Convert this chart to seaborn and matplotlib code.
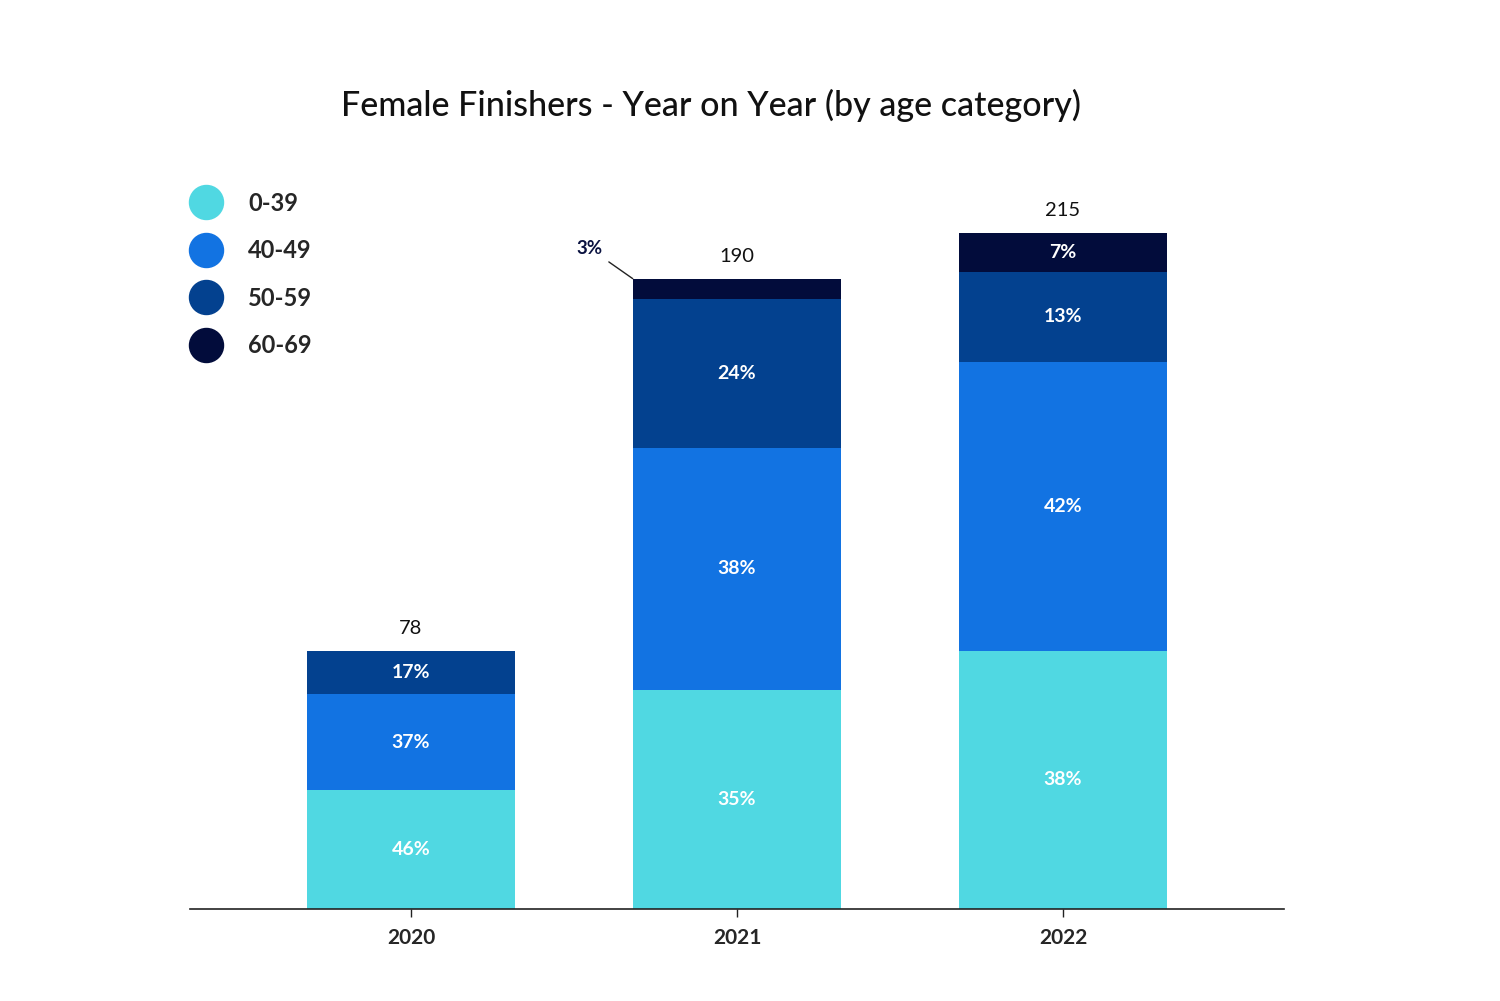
import pandas as pd
import matplotlib.pyplot as plt
import seaborn as sns
from matplotlib.lines import Line2D

# data
years = ["2020", "2021", "2022"]
groups = ["0-39", "40-49", "50-59", "60-69"]
totals = [78, 190, 215]
# segment heights as drawn (axis units)
seg_0_39 = [37.8, 69.7, 82.1]
seg_40_49 = [30.5, 77.0, 91.9]
seg_50_59 = [13.7, 47.4, 28.6]
seg_60_69 = [0.0, 6.4, 12.4]
pct_0_39 = ["46%", "35%", "38%"]
pct_40_49 = ["37%", "38%", "42%"]
pct_50_59 = ["17%", "24%", "13%"]
pct_60_69 = ["", "3%", "7%"]

colors = ["#50D8E2", "#1273E2", "#03418F", "#020C3B"]

segs = [seg_0_39, seg_40_49, seg_50_59, seg_60_69]
pcts = [pct_0_39, pct_40_49, pct_50_59, pct_60_69]

sns.set_style("white")
plt.rcParams["font.family"] = ["Lato", "DejaVu Sans"]

fig = plt.figure(figsize=(15, 10.01), dpi=100)
ax = fig.add_axes([0.1267, 0.0919, 0.7293, 0.7582])

# cumulative stacks, drawn from the top down
df = pd.DataFrame({"year": years})
cum = [0.0, 0.0, 0.0]
cums = []
for s in segs:
    cum = [c + v for c, v in zip(cum, s)]
    cums.append(cum)
for i in range(len(groups) - 1, -1, -1):
    df["h"] = cums[i]
    sns.barplot(data=df, x="year", y="h", color=colors[i], saturation=1,
                width=0.64, ax=ax, errorbar=None, linewidth=0)

# percentage labels
for i in range(len(groups)):
    for j in range(len(years)):
        if pcts[i][j] == "" or (i == 3 and j == 1):
            continue
        bottom = cums[i][j] - segs[i][j]
        ax.text(j, bottom + segs[i][j] / 2, pcts[i][j], ha="center", va="center",
                color="white", fontsize=14, fontweight="bold")

# small slice on 2021 gets a leader line
ax.annotate(pct_60_69[1], xy=(1 - 0.32, cums[3][1]), xytext=(-22, 22),
            textcoords="offset points", ha="right", va="center",
            fontsize=13.5, fontweight="bold", color="#0A1240",
            arrowprops=dict(arrowstyle="-", color="#222222", lw=1, shrinkA=3, shrinkB=0))

# totals above the bars
for j in range(len(years)):
    ax.annotate(str(totals[j]), xy=(j, cums[3][j]), xytext=(0, 16),
                textcoords="offset points", ha="center", va="center",
                fontsize=14.5, color="#111111")

ax.set_xlim(-0.678, 2.678)
ax.set_ylim(0, 241.4)
ax.set_xlabel("")
ax.set_ylabel("")
ax.set_yticks([])
sns.despine(ax=ax, left=True)
ax.spines["bottom"].set_color("#222222")
ax.spines["bottom"].set_linewidth(1.2)
ax.tick_params(axis="x", bottom=True, length=6, width=1, color="#222222", pad=8,
               labelsize=15)
for lbl in ax.get_xticklabels():
    lbl.set_fontweight("bold")

fig.text(0.474, 0.895, "Female Finishers - Year on Year (by age category)",
         ha="center", va="center", fontsize=24.5, fontweight="medium", color="#111111")

handles = [Line2D([], [], marker="o", linestyle="", markersize=24.5,
                  markerfacecolor=c, markeredgecolor=c) for c in colors]
leg = fig.legend(handles, groups, loc="upper left", bbox_to_anchor=(0.1215, 0.818),
                 frameon=False, fontsize=17, labelspacing=1.04, handletextpad=1.2,
                 handlelength=1.2, borderaxespad=0)
for t in leg.get_texts():
    t.set_fontweight("bold")

fig.savefig("out.png", dpi=100, facecolor="white")
